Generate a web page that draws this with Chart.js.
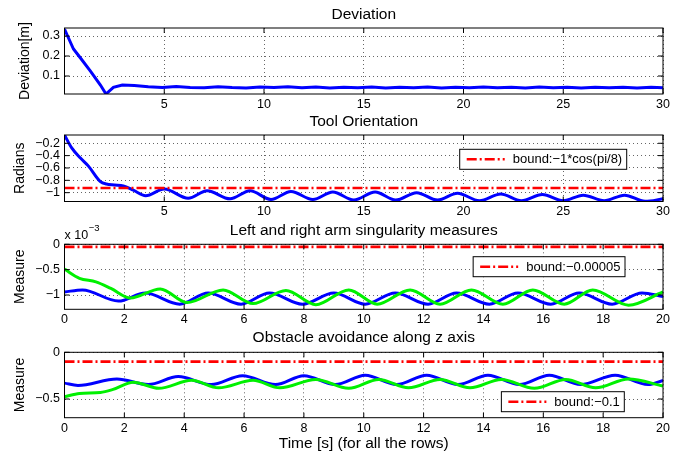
<!DOCTYPE html>
<html lang="en">
<head>
<meta charset="UTF-8">
<title>Dual-arm task results</title>
<script src="https://cdn.jsdelivr.net/npm/chart.js@4"></script>
<style>
  body { margin: 0; background: #fff; }
  .fig { position: relative; width: 686px; height: 452px; }
  .fig canvas { position: absolute; left: 0; top: 0; }
</style>
</head>
<body>
<div class="fig">
  <canvas id="deviation" width="686" height="452"></canvas>
  <canvas id="orientation" width="686" height="452"></canvas>
  <canvas id="singularity" width="686" height="452"></canvas>
  <canvas id="obstacle" width="686" height="452"></canvas>
</div>

<script>
// row 1 - deviation [m], 0..30 s
const devTime  = [0, 0.2, 0.45, 0.8, 1.3, 1.8, 2.08, 2.45, 2.9, 3.5,
                  4.2, 4.9, 5.6, 6.3, 7.0, 7.7, 8.4, 9.1, 9.8, 10.5,
                  11.2, 11.9, 12.6, 13.3, 14.0, 14.7, 15.4, 16.1, 16.8, 17.5,
                  18.2, 18.9, 19.6, 20.3, 21.0, 21.7, 22.4, 23.1, 23.8, 24.5,
                  25.2, 25.9, 26.6, 27.3, 28.0, 28.7, 29.4, 30];
const devValue = [0.335, 0.29, 0.235, 0.19, 0.124, 0.055, 0.01, 0.043, 0.055, 0.052,
                  0.046, 0.043, 0.047, 0.043, 0.041, 0.046, 0.042, 0.040, 0.045, 0.042,
                  0.046, 0.041, 0.045, 0.040, 0.044, 0.041, 0.045, 0.040, 0.044, 0.041,
                  0.045, 0.040, 0.044, 0.041, 0.045, 0.041, 0.044, 0.040, 0.045, 0.041,
                  0.044, 0.040, 0.044, 0.041, 0.044, 0.040, 0.044, 0.041];
const devTicks = [0.1, 0.2, 0.3];

// row 2 - tool orientation [rad], 0..30 s
const oriTime  = [0, 0.37, 0.8, 1.2, 1.8, 2.1, 2.5, 2.95, 3.45, 4.07,
                  5.0, 6.2, 7.15, 8.3, 9.3, 10.35, 11.35, 12.45, 13.45, 14.5,
                  15.57, 16.6, 17.65, 18.7, 19.7, 20.8, 21.87, 22.9, 23.95, 25.0,
                  26.0, 27.05, 28.07, 29.1, 30];
const oriValue = [-0.066, -0.28, -0.44, -0.57, -0.82, -0.86, -0.875, -0.89, -0.96, -1.05,
                  -0.94, -1.09, -0.97, -1.10, -0.97, -1.11, -0.98, -1.11, -0.99, -1.12,
                  -0.99, -1.12, -1.00, -1.12, -1.01, -1.13, -1.02, -1.13, -1.03, -1.13,
                  -1.04, -1.13, -1.04, -1.14, -1.10];
const oriBound = -1 * Math.cos(Math.PI / 8);
const oriTicks = [-1, -0.8, -0.6, -0.4, -0.2];

// row 3 - singularity measures, values in units of 1e-3, 0..20 s
const singScale = 1e-3;
const leftTime   = [0, 0.6, 1.8, 2.7, 3.85, 4.8, 5.9, 6.85, 7.95, 9.0,
                    10.05, 11.05, 12.15, 13.1, 14.2, 15.15, 16.25, 17.2, 18.3, 19.3, 20];
const leftValue  = [-0.94, -0.90, -1.12, -0.96, -1.18, -0.96, -1.18, -0.96, -1.18, -0.96,
                    -1.18, -0.96, -1.18, -0.96, -1.18, -0.96, -1.18, -0.96, -1.18, -0.96, -1.03];
const rightTime  = [0, 0.5, 1.05, 1.55, 2.2, 3.2, 4.1, 5.3, 6.3, 7.4, 8.4,
                    9.5, 10.45, 11.55, 12.55, 13.6, 14.65, 15.65, 16.7, 17.65, 18.85, 20];
const rightValue = [-0.49, -0.67, -0.74, -0.87, -1.06, -0.88, -1.15, -0.90, -1.17, -0.91, -1.19,
                    -0.90, -1.18, -0.90, -1.18, -0.90, -1.18, -0.90, -1.18, -0.90, -1.20, -0.94];
const singBound = -0.00005;
const singTicks = [-0.001, -0.0005, 0];

// row 4 - obstacle avoidance along z, 0..20 s
const obsBlueTime   = [0, 0.45, 1.75, 2.8, 3.8, 4.9, 5.95, 7.05, 8.0, 9.05,
                       10.05, 11.1, 12.1, 13.15, 14.15, 15.2, 16.2, 17.25, 18.4, 19.5, 20];
const obsBlueValue  = [-0.33, -0.355, -0.285, -0.345, -0.26, -0.345, -0.25, -0.345, -0.25, -0.345,
                       -0.245, -0.345, -0.245, -0.345, -0.245, -0.345, -0.245, -0.345, -0.245, -0.345, -0.30];
const obsGreenTime  = [0, 0.5, 1.2, 1.6, 2.3, 3.15, 4.25, 5.15, 6.3, 7.2, 8.4,
                       9.5, 10.5, 11.5, 12.55, 13.55, 14.6, 15.7, 16.75, 17.75, 18.85, 20];
const obsGreenValue = [-0.475, -0.44, -0.43, -0.40, -0.32, -0.385, -0.30, -0.38, -0.30, -0.38, -0.29,
                       -0.385, -0.29, -0.38, -0.29, -0.38, -0.29, -0.385, -0.29, -0.38, -0.285, -0.36];
const obsBound = -0.1;
const obsTicks = [-0.5, 0];

const timeTicks30 = [5, 10, 15, 20, 25, 30];
const timeTicks20 = [0, 2, 4, 6, 8, 10, 12, 14, 16, 18, 20];

const FONT = "'Liberation Sans', Arial, Helvetica, sans-serif";
Chart.defaults.font.family = FONT;
Chart.defaults.color = '#000';

const BLUE = '#0000ff', GREEN = '#00f000', RED = '#ff0000';
const DASHDOT = [10, 3, 2, 3];

function pts(ts, vs, k = 1) {
  return ts.map((t, i) => ({ x: t, y: vs[i] * k }));
}
function fmt(v) {
  return String(Number(v.toFixed(4))).replace('-', '\u2212');
}
function curve(data, color, order) {
  return { data, borderColor: color, borderWidth: 3, cubicInterpolationMode: 'monotone', order };
}
function bound(label, value, xMax) {
  return { label, data: [{ x: 0, y: value }, { x: xMax, y: value }],
           borderColor: RED, borderWidth: 2.6, borderDash: DASHDOT, order: 0 };
}

// black box round the axes with inward tick marks on all four sides
const matlabFrame = {
  id: 'matlabFrame',
  afterDatasetsDraw(chart) {
    const { ctx, chartArea: a, scales: { x, y } } = chart;
    const len = 5;
    ctx.save();
    ctx.strokeStyle = '#000';
    ctx.lineWidth = 1;
    ctx.beginPath();
    x.ticks.forEach(t => {
      const px = x.getPixelForValue(t.value);
      ctx.moveTo(px, a.bottom); ctx.lineTo(px, a.bottom - len);
      ctx.moveTo(px, a.top); ctx.lineTo(px, a.top + len);
    });
    y.ticks.forEach(t => {
      const py = y.getPixelForValue(t.value);
      ctx.moveTo(a.left, py); ctx.lineTo(a.left + len, py);
      ctx.moveTo(a.right, py); ctx.lineTo(a.right - len, py);
    });
    ctx.stroke();
    ctx.strokeRect(a.left, a.top, a.width, a.height);
    ctx.restore();
  }
};

// boxed legend for the labelled (bound) series, placed inside the axes
const boundLegend = {
  id: 'boundLegend',
  afterDraw(chart, args, opts) {
    const ds = chart.data.datasets.find(d => d.label);
    if (!ds || opts.right === undefined) return;
    const { ctx, chartArea: a } = chart;
    ctx.save();
    ctx.font = '13px ' + FONT;
    const tw = ctx.measureText(ds.label).width;
    const w = 53 + tw + 4.5, h = 20;
    const x0 = a.right - opts.right - w;
    const y0 = opts.top !== undefined ? a.top + opts.top : a.bottom - opts.bottom - h;
    ctx.fillStyle = '#fff';
    ctx.fillRect(x0, y0, w, h);
    ctx.strokeStyle = '#000';
    ctx.lineWidth = 1;
    ctx.strokeRect(x0, y0, w, h);
    ctx.beginPath();
    ctx.setLineDash(ds.borderDash);
    ctx.strokeStyle = ds.borderColor;
    ctx.lineWidth = ds.borderWidth;
    ctx.moveTo(x0 + 7, y0 + h / 2);
    ctx.lineTo(x0 + 45, y0 + h / 2);
    ctx.stroke();
    ctx.setLineDash([]);
    ctx.fillStyle = '#000';
    ctx.textBaseline = 'middle';
    ctx.fillText(ds.label, x0 + 53, y0 + h / 2 + 0.5);
    ctx.restore();
  }
};

// "x 10^-3" multiplier above the y axis
const axisExponent = {
  id: 'axisExponent',
  afterDraw(chart, args, opts) {
    if (!opts.power) return;
    const { ctx, chartArea: a } = chart;
    ctx.save();
    ctx.fillStyle = '#000';
    ctx.textBaseline = 'alphabetic';
    ctx.font = '12.5px ' + FONT;
    const base = 'x 10';
    ctx.fillText(base, a.left, a.top - 5.6);
    const bw = ctx.measureText(base).width;
    ctx.font = '9.5px ' + FONT;
    ctx.fillText(opts.power, a.left + bw + 0.5, a.top - 13);
    ctx.restore();
  }
};

function panel(id, o) {
  return new Chart(document.getElementById(id), {
    type: 'line',
    data: { datasets: o.datasets },
    options: {
      responsive: false,
      animation: false,
      devicePixelRatio: 1,
      layout: { padding: { left: 0, right: 23, top: o.titleY - 7.75, bottom: 452 - o.bottom - o.xAxisH } },
      elements: { point: { radius: 0 } },
      plugins: {
        legend: { display: false },
        tooltip: { enabled: false },
        title: {
          display: true, text: o.title, fullSize: false, color: '#000',
          font: { size: 15.5, weight: 'normal', lineHeight: 1 },
          padding: { top: 0, bottom: o.top - o.titleY - 7.75 }
        },
        boundLegend: o.legend || {},
        axisExponent: { power: o.power }
      },
      scales: {
        x: {
          type: 'linear', min: 0, max: o.xMax,
          afterBuildTicks: s => { s.ticks = o.xTicks.map(v => ({ value: v })); },
          afterFit: s => { s.height = o.xAxisH; },
          ticks: { autoSkip: false, maxRotation: 0, padding: 3, font: { size: 12.5 }, callback: v => fmt(v) },
          grid: { color: 'rgba(0,0,0,0.6)', drawTicks: false },
          border: { display: false, dash: [1, 3] },
          title: o.xTitle
            ? { display: true, text: o.xTitle, font: { size: 15.5, lineHeight: 1 }, padding: { top: 0, bottom: 0.5 } }
            : { display: false }
        },
        y: {
          type: 'linear', min: o.yMin, max: o.yMax,
          afterBuildTicks: s => { s.ticks = o.yTicks.map(v => ({ value: v })); },
          afterFit: s => { s.width = 64.5; },
          ticks: { autoSkip: false, padding: 4.5, font: { size: 12.5 }, callback: v => fmt(v / (o.yUnit || 1)) },
          grid: { color: 'rgba(0,0,0,0.6)', drawTicks: false },
          border: { display: false, dash: [1, 3] },
          title: { display: true, text: o.yTitle, font: { size: 14, lineHeight: 1 }, padding: { top: o.yTitleX - 7, bottom: 0 } }
        }
      }
    },
    plugins: [matlabFrame, boundLegend, axisExponent]
  });
}

panel('deviation', {
  title: 'Deviation', titleY: 15, top: 28, bottom: 94, xAxisH: 20,
  xMax: 30, xTicks: timeTicks30,
  yMin: 0.01, yMax: 0.34, yTicks: devTicks, yTitle: 'Deviation[m]', yTitleX: 25.5,
  datasets: [
    { data: pts(devTime, devValue), borderColor: BLUE, borderWidth: 3, tension: 0, order: 2 }
  ]
});

panel('orientation', {
  title: 'Tool Orientation', titleY: 122, top: 135, bottom: 201.5, xAxisH: 20,
  xMax: 30, xTicks: timeTicks30,
  yMin: -1.143, yMax: -0.066, yTicks: oriTicks, yTitle: 'Radians', yTitleX: 20,
  legend: { right: 36.3, top: 14.3 },
  datasets: [
    curve(pts(oriTime, oriValue), BLUE, 2),
    bound('bound:\u22121*cos(pi/8)', oriBound, 30)
  ]
});

panel('singularity', {
  title: 'Left and right arm singularity measures', titleY: 230.5, top: 244.3, bottom: 309.3, xAxisH: 20,
  xMax: 20, xTicks: timeTicks20,
  yMin: -1.282e-3, yMax: 0, yTicks: singTicks, yUnit: singScale, yTitle: 'Measure', yTitleX: 20,
  power: '\u22123',
  legend: { right: 38, top: 12.4 },
  datasets: [
    curve(pts(leftTime, leftValue, singScale), BLUE, 2),
    curve(pts(rightTime, rightValue, singScale), GREEN, 1),
    bound('bound:\u22120.00005', singBound, 20)
  ]
});

panel('obstacle', {
  title: 'Obstacle avoidance along z axis', titleY: 337.5, top: 352.3, bottom: 417.7, xAxisH: 34,
  xMax: 20, xTicks: timeTicks20, xTitle: 'Time [s] (for all the rows)',
  yMin: -0.7, yMax: 0, yTicks: obsTicks, yTitle: 'Measure', yTitleX: 20,
  legend: { right: 38.7, bottom: 6 },
  datasets: [
    curve(pts(obsBlueTime, obsBlueValue), BLUE, 2),
    curve(pts(obsGreenTime, obsGreenValue), GREEN, 1),
    bound('bound:\u22120.1', obsBound, 20)
  ]
});
</script>
</body>
</html>
